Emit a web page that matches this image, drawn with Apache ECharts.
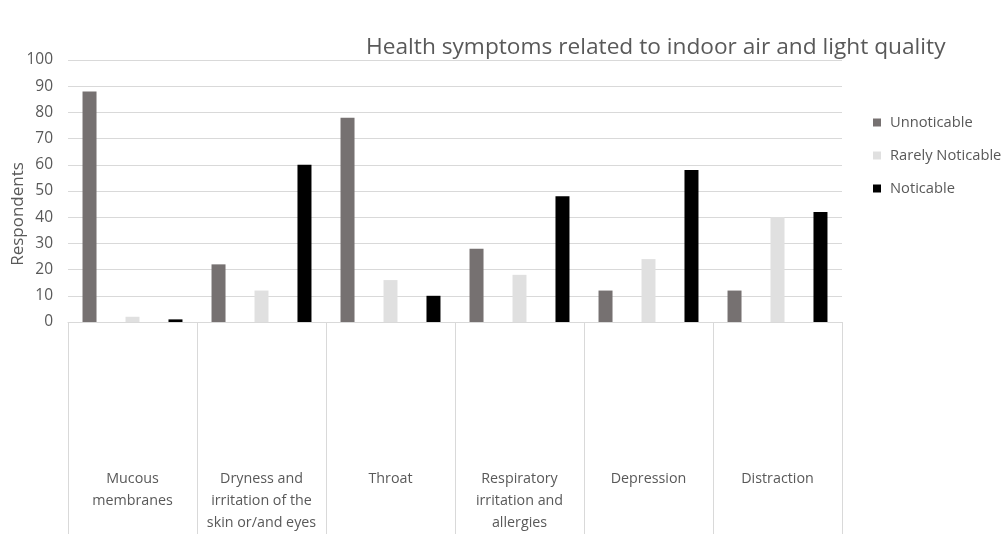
<!DOCTYPE html>
<html>
<head>
<meta charset="utf-8">
<script src="https://cdn.jsdelivr.net/npm/echarts@6/dist/echarts.min.js"></script>
<style>
html,body{margin:0;padding:0;background:#fff;}
#chart{width:1006px;height:534px;}
</style>
</head>
<body>
<div id="chart"></div>
<script>
const categories = [
  "Mucous\nmembranes",
  "Dryness and\nirritation of the\nskin or/and eyes",
  "Throat",
  "Respiratory\nirritation and\nallergies",
  "Depression",
  "Distraction"
];
const seriesNames = ["Unnoticable", "Rarely Noticable", "Noticable"];
const unnoticable = [88, 22, 78, 28, 12, 12];
const rarelyNoticable = [2, 12, 16, 18, 24, 40];
const noticable = [1, 60, 10, 48, 58, 42];
const colors = ["#767171", "#e0e0e0", "#000000"];

const FONT = "Open Sans";
const TXT = "#595959";
const LINE = "#d9d9d9";

const chart = echarts.init(document.getElementById("chart"), null, {renderer: "canvas"});
const values = [unnoticable, rarelyNoticable, noticable];
chart.setOption({
  animation: false,
  backgroundColor: "#ffffff",
  textStyle: {fontFamily: FONT},
  title: {
    text: "Health symptoms related to indoor air and light quality",
    left: 361, top: 31,
    textStyle: {fontFamily: FONT, fontSize: 22.7, fontWeight: "normal", color: TXT}
  },
  legend: {
    orient: "vertical",
    left: 868, top: 110,
    itemWidth: 8, itemHeight: 8, itemGap: 18,
    icon: "rect",
    data: seriesNames,
    textStyle: {fontFamily: FONT, fontSize: 14.7, color: TXT, padding: [0,0,0,4]}
  },
  grid: {left: 68, right: 164, top: 60, bottom: 212, containLabel: false},
  xAxis: {
    type: "category",
    data: categories,
    axisLine: {show: true, lineStyle: {color: LINE, width: 1}},
    axisTick: {show: true, length: 212, lineStyle: {color: LINE, width: 1}},
    axisLabel: {margin: 146, fontFamily: FONT, fontSize: 14.3, color: TXT, lineHeight: 22, interval: 0}
  },
  yAxis: {
    type: "value",
    min: 0, max: 100, interval: 10,
    axisLine: {show: false},
    axisTick: {show: false},
    splitLine: {lineStyle: {color: LINE, width: 1}},
    axisLabel: {margin: 15, fontFamily: FONT, fontSize: 15.5, color: TXT}
  },
  graphic: [{
    type: "text",
    x: 18, y: 214,
    rotation: Math.PI / 2,
    style: {text: "Respondents", fontFamily: FONT, fontSize: 17, fill: TXT, align: "center", verticalAlign: "middle"}
  }],
  series: seriesNames.map((n, i) => ({
    name: n,
    type: "bar",
    data: values[i],
    barWidth: 14,
    barGap: "207%",
    itemStyle: {color: colors[i]}
  }))
});
</script>
</body>
</html>
